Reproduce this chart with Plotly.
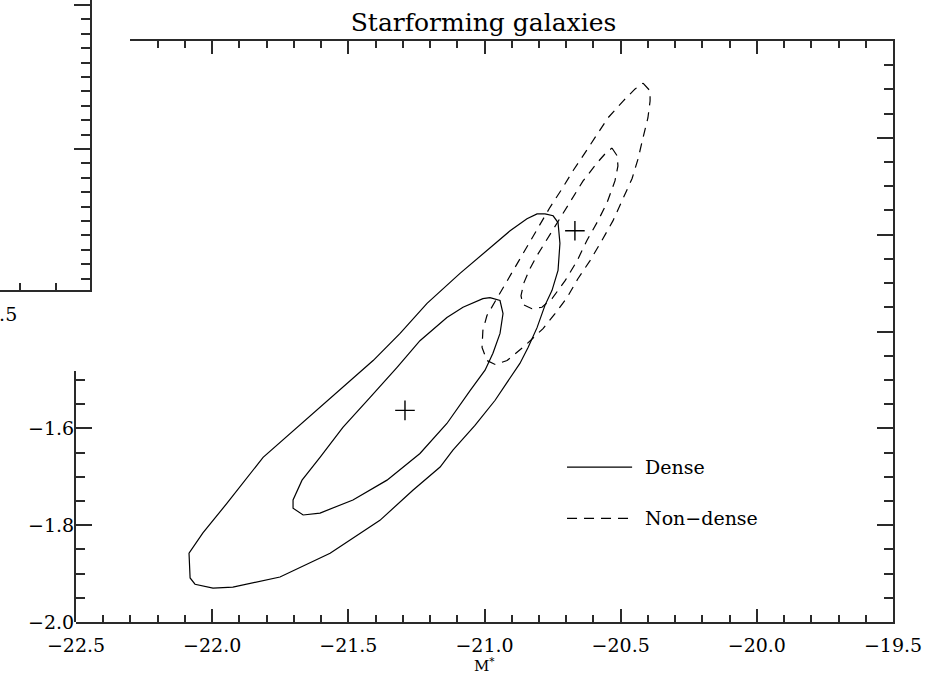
import plotly.graph_objects as go

W, H = 941, 682

# ---------------- data ----------------
x_range = [-22.5, -19.5]
y_range = [-2.0, -0.8]
x_major = 0.5
x_minor = 0.1
y_major = 0.2
y_minor = 0.05

dense_outer_x = [-20.778, -20.748, -20.730, -20.723, -20.730, -20.752, -20.778, -20.807, -20.840, -20.870,
                 -20.917, -20.961, -21.035, -21.116, -21.163, -21.263, -21.384, -21.567, -21.751, -21.924,
                 -21.997, -22.063, -22.081, -22.085, -22.034, -21.946, -21.813, -21.630, -21.494, -21.409,
                 -21.310, -21.211, -21.090, -20.991, -20.906, -20.844, -20.807, -20.778]
dense_outer_y = [-1.157, -1.161, -1.175, -1.218, -1.274, -1.315, -1.346, -1.392, -1.433, -1.466,
                 -1.505, -1.542, -1.594, -1.645, -1.680, -1.728, -1.790, -1.858, -1.907, -1.928,
                 -1.930, -1.922, -1.909, -1.858, -1.816, -1.755, -1.660, -1.569, -1.501, -1.460,
                 -1.404, -1.342, -1.280, -1.233, -1.192, -1.167, -1.157, -1.157]

dense_inner_x = [-20.980, -20.943, -20.932, -20.943, -20.969, -20.998, -21.053, -21.138, -21.237, -21.358,
                 -21.483, -21.604, -21.666, -21.703, -21.703, -21.670, -21.604, -21.520, -21.420, -21.321,
                 -21.237, -21.138, -21.079, -21.006, -20.980]
dense_inner_y = [-1.330, -1.336, -1.363, -1.404, -1.445, -1.480, -1.522, -1.590, -1.652, -1.707,
                 -1.748, -1.775, -1.779, -1.765, -1.748, -1.707, -1.660, -1.598, -1.536, -1.474,
                 -1.419, -1.371, -1.350, -1.332, -1.330]

nondense_outer_x = [-20.418, -20.392, -20.392, -20.400, -20.418, -20.436, -20.458, -20.491, -20.528, -20.569,
                    -20.613, -20.657, -20.697, -20.741, -20.785, -20.851, -20.917, -20.961, -20.991, -21.009,
                    -21.006, -20.991, -20.969, -20.932, -20.888, -20.844, -20.804, -20.760, -20.715, -20.675,
                    -20.631, -20.587, -20.547, -20.491, -20.447, -20.418]
nondense_outer_y = [-0.887, -0.903, -0.924, -0.959, -1.000, -1.043, -1.084, -1.126, -1.171, -1.212,
                    -1.254, -1.291, -1.330, -1.363, -1.394, -1.429, -1.460, -1.468, -1.460, -1.433,
                    -1.398, -1.367, -1.346, -1.309, -1.268, -1.227, -1.186, -1.144, -1.105, -1.068,
                    -1.031, -0.992, -0.959, -0.924, -0.899, -0.887]

nondense_inner_x = [-20.532, -20.513, -20.510, -20.521, -20.550, -20.583, -20.624, -20.660, -20.704, -20.752,
                    -20.789, -20.826, -20.859, -20.866, -20.855, -20.833, -20.807, -20.767, -20.723, -20.679,
                    -20.638, -20.587, -20.554, -20.532]
nondense_inner_y = [-1.021, -1.037, -1.058, -1.089, -1.134, -1.171, -1.212, -1.254, -1.295, -1.332,
                    -1.350, -1.353, -1.344, -1.326, -1.299, -1.270, -1.243, -1.206, -1.165, -1.126,
                    -1.089, -1.052, -1.031, -1.021]

center_x = [-21.292, -20.668]
center_y = [-1.563, -1.192]

legend_labels = ["Dense", "Non\u2212dense"]
title_text = "Starforming galaxies"
xtitle_text = "M<sup>*</sup>"

# neighbouring (mostly hidden) panel
other_x_range = [-20.4556, -20.2056]
other_y_range = [0.021, 2.035]
other_cut_label = "\u221220.5"

# ---------------- layout geometry (pixels) ----------------
L, R, T, B = 76, 893, 41, 622          # main frame
TOP_START = 130                          # visible start of top axis
LEFT_TOP = 371                           # visible top of left axis
OX, OY = 90, 290                         # neighbour panel frame corner

def px(xp):
    return xp / W

def py(yp):
    return 1 - yp / H

top_axis_start = x_range[0] + (TOP_START - L) / (R - L) * (x_range[1] - x_range[0])
left_axis_top = y_range[0] + (B - LEFT_TOP) / (B - T) * (y_range[1] - y_range[0])

FONT = "DejaVu Serif"
TICKFONT = dict(family=FONT, size=19, color="black")
LC = "#2a2a2a"

base = dict(showline=True, linecolor=LC, linewidth=2, ticks="inside", tickcolor=LC, tickwidth=2,
            showgrid=False, zeroline=False, automargin=False, tickfont=TICKFONT, fixedrange=True)

fig = go.Figure()

line_solid = dict(color="black", width=1.2)
line_dash = dict(color="black", width=1.2, dash="9px,7px")

fig.add_trace(go.Scatter(x=dense_outer_x, y=dense_outer_y, mode="lines", line=line_solid,
                         showlegend=False, hoverinfo="skip"))
fig.add_trace(go.Scatter(x=dense_inner_x, y=dense_inner_y, mode="lines", line=line_solid,
                         showlegend=False, hoverinfo="skip"))
fig.add_trace(go.Scatter(x=nondense_outer_x, y=nondense_outer_y, mode="lines", line=line_dash,
                         showlegend=False, hoverinfo="skip"))
fig.add_trace(go.Scatter(x=nondense_inner_x, y=nondense_inner_y, mode="lines", line=line_dash,
                         showlegend=False, hoverinfo="skip"))
fig.add_trace(go.Scatter(x=center_x, y=center_y, mode="markers",
                         marker=dict(symbol="cross-thin", size=14, line=dict(color="black", width=1.4)),
                         showlegend=False, hoverinfo="skip"))
# empty traces so that every auxiliary axis pair forms a subplot
fig.add_trace(go.Scatter(x=[], y=[], xaxis="x3", yaxis="y", showlegend=False))
fig.add_trace(go.Scatter(x=[], y=[], xaxis="x", yaxis="y4", showlegend=False))
fig.add_trace(go.Scatter(x=[], y=[], xaxis="x2", yaxis="y2", showlegend=False))

fig.update_layout(
    width=W, height=H,
    margin=dict(l=0, r=0, t=0, b=0, autoexpand=False),
    paper_bgcolor="white", plot_bgcolor="rgba(0,0,0,0)",
    showlegend=False,
    font=dict(family=FONT, color="black"),
    title=dict(text=title_text, x=483.5 / W, y=1 - 22 / H, xanchor="center", yanchor="middle",
               font=dict(family=FONT, size=25, color="black")),
    # main bottom axis
    xaxis=dict(base, domain=[px(L), px(R)], range=x_range, anchor="y", side="bottom",
               tick0=x_range[0], dtick=x_major, ticklen=13, tickformat=".1f", ticklabelstandoff=5,
               minor=dict(ticks="inside", dtick=x_minor, ticklen=7, tickcolor=LC, tickwidth=2)),
    # main right axis
    yaxis=dict(base, domain=[py(B), py(T)], range=y_range, anchor="x", side="right",
               tick0=y_range[0], dtick=y_major, ticklen=16, showticklabels=False,
               minor=dict(ticks="inside", dtick=y_minor, ticklen=9, tickcolor=LC, tickwidth=2)),
    # main top axis (left part hidden behind the neighbouring panel)
    xaxis3=dict(base, domain=[px(TOP_START), px(R)], range=[top_axis_start, x_range[1]], anchor="y",
                side="top", tick0=x_range[0], dtick=x_major, ticklen=13, showticklabels=False,
                minor=dict(ticks="inside", dtick=x_minor, ticklen=7, tickcolor=LC, tickwidth=2)),
    # main left axis (upper part hidden)
    yaxis4=dict(base, domain=[py(B), py(LEFT_TOP)], range=[y_range[0], left_axis_top], anchor="x",
                side="left", tick0=y_range[0], dtick=y_major, ticklen=16, tickformat=".1f",
                ticklabelstandoff=-4,
                minor=dict(ticks="inside", dtick=y_minor, ticklen=9, tickcolor=LC, tickwidth=2)),
    # neighbouring panel (only its lower-right corner is visible)
    xaxis2=dict(base, domain=[0, px(OX)], range=other_x_range, anchor="y2", side="bottom",
                tick0=x_range[0], dtick=x_major, ticklen=13, showticklabels=False,
                minor=dict(ticks="inside", dtick=x_minor, ticklen=7, tickcolor=LC, tickwidth=2)),
    yaxis2=dict(base, domain=[py(OY), 1], range=other_y_range, anchor="x2", side="right",
                tick0=0, dtick=1, ticklen=16, showticklabels=False,
                minor=dict(ticks="inside", dtick=0.1, ticklen=9, tickcolor=LC, tickwidth=2)),
)

# x-axis title, centred under the main panel
fig.add_annotation(x=sum(x_range) / 2, xref="x", y=py(665), yref="paper", text=xtitle_text,
                   showarrow=False, xanchor="center", yanchor="middle",
                   font=dict(family=FONT, size=15, color="black"))

# clipped tick label of the neighbouring panel (its centre lies left of the page)
fig.add_annotation(x=px(-12), xref="paper", y=py(314), yref="paper",
                   text=other_cut_label, showarrow=False, xanchor="center", yanchor="middle",
                   font=TICKFONT)

# legend (drawn in data coordinates of the main panel)
leg_x0, leg_x1, leg_xt = -20.697, -20.458, -20.418
leg_y = [-1.680, -1.786]
fig.add_shape(type="line", xref="x", yref="y", x0=leg_x0, x1=leg_x1, y0=leg_y[0], y1=leg_y[0],
              line=dict(color="black", width=1.2))
fig.add_shape(type="line", xref="x", yref="y", x0=leg_x0, x1=leg_x1, y0=leg_y[1], y1=leg_y[1],
              line=dict(color="black", width=1.2, dash="10px,7px"))
for lab, yy in zip(legend_labels, leg_y):
    fig.add_annotation(x=leg_xt, y=yy, xref="x", yref="y", text=lab, showarrow=False,
                       xanchor="left", yanchor="middle", font=dict(family=FONT, size=19, color="black"))

fig.write_html("out.html", config={"displayModeBar": False},
               post_script="document.body.style.margin='0';document.body.style.overflow='hidden';")
